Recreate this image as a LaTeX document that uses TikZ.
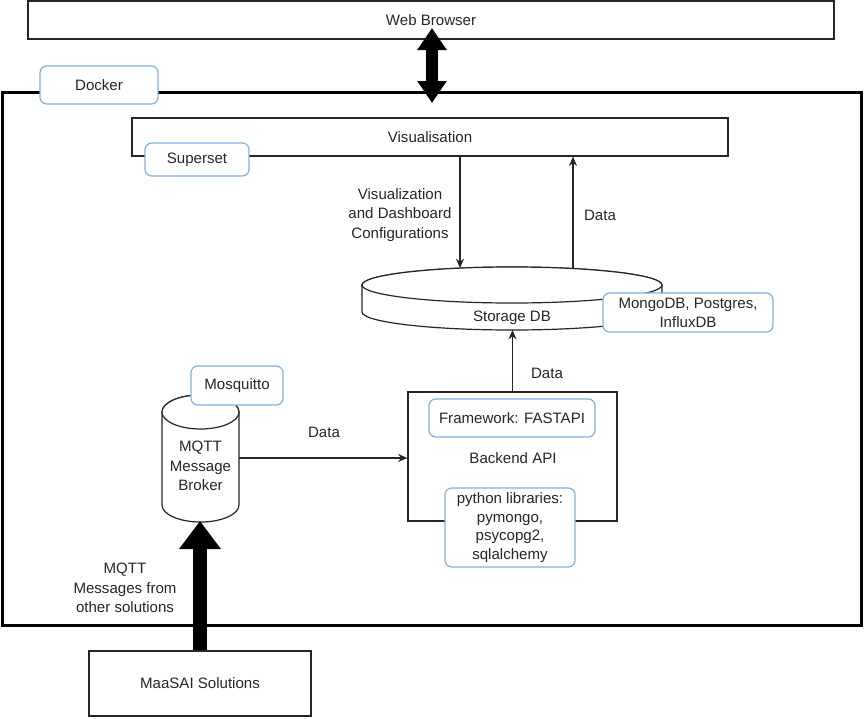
\documentclass[tikz,border=0pt]{standalone}
\usepackage{fontspec}
\setmainfont{Liberation Sans}
\usetikzlibrary{arrows.meta}
\definecolor{lblue}{HTML}{7EB2E4}
\def\u{0.75pt}
\begin{document}
\begin{tikzpicture}[x=0.75pt,y=-0.75pt,
  font=\fontsize{11.3}{14.4}\selectfont,
  box/.style={draw=black!85, line width=0.9pt, fill=white, inner sep=0pt, text=black!85},
  tag/.style={draw=lblue, line width=0.9pt, rounded corners=5pt, fill=white, inner sep=0pt, align=center, text=black!85},
  lbl/.style={align=center, text=black!85, inner sep=0pt},
  arr/.style={draw=black!85, line width=0.8pt, -{Stealth[length=7pt,width=6pt]}},
  blockarr/.style={draw=black, line width=9pt}]
\useasboundingbox (0,0) rectangle (864,718);

% Docker container
\node[draw=black, line width=2.25pt, minimum width=859*\u, minimum height=533*\u, inner sep=0pt] (docker) at (431.5,358.5) {};
\node[tag, minimum width=118*\u, minimum height=38*\u] (dockerlbl) at (99,85) {Docker};

% Web browser
\node[box, minimum width=806*\u, minimum height=38*\u] (web) at (431,20) {Web Browser};
\coordinate (wa) at (432,28);
\coordinate (wb) at (432,103);
\draw[blockarr, {Triangle[length=16.5pt,width=21pt]}-{Triangle[length=16.5pt,width=21pt]}] (wa) -- (wb);

% Visualisation
\node[box, minimum width=596*\u, minimum height=38*\u] (viz) at (430,137) {Visualisation};
\node[tag, minimum width=104*\u, minimum height=33*\u] (superset) at (197,159.5) {Superset};

% Storage DB cylinder
\draw[box] (362,285) -- (362,312) arc[start angle=180, end angle=360, x radius=112.5pt, y radius=13.5pt] -- (662,285) arc[start angle=0, end angle=180, x radius=112.5pt, y radius=13.5pt] -- cycle;
\draw[box] (512,285) ellipse[x radius=112.5pt, y radius=13.5pt];
\node[lbl] (db) at (512,318) {Storage DB};
\coordinate (dbA) at (460,268);
\coordinate (dbB) at (573,269);
\coordinate (dbbot) at (512.5,330);
\node[tag, minimum width=170*\u, minimum height=39*\u] (mongo) at (688,312.5) {MongoDB, Postgres,\\InfluxDB};

\draw[arr] (viz.south -| dbA) -- (dbA);
\draw[arr] (dbB) -- (viz.south -| dbB);
\node[lbl] (vizcfg) at (400,215) {Visualization\\and Dashboard\\Configurations};
\node[lbl] (data1) at (600,215) {Data};

% Backend API
\node[box, minimum width=209*\u, minimum height=129*\u] (backend) at (512.5,456.5) {};
\node[lbl] (backendlbl) at (513,458) {Backend API};
\node[tag, minimum width=166*\u, minimum height=38*\u] (framework) at (512,418) {Framework: FASTAPI};
\node[tag, minimum width=130*\u, minimum height=79*\u, font=\fontsize{11.3}{14}\selectfont] (pylib) at (510,527.5) {python libraries:\\pymongo,\\psycopg2,\\sqlalchemy};
\draw[arr] (backend.north) -- (dbbot);
\node[lbl] (data2) at (547,373) {Data};

% MQTT broker cylinder
\draw[box] (162,412) -- (162,505) arc[start angle=180, end angle=360, x radius=28.875pt, y radius=12.75pt] -- (239,412) arc[start angle=0, end angle=180, x radius=28.875pt, y radius=12.75pt] -- cycle;
\draw[box] (200.5,412) ellipse[x radius=28.875pt, y radius=12.75pt];
\node[lbl] (mqtt) at (200.5,466) {MQTT\\Message\\Broker};
\coordinate (mqttR) at (239,458);
\coordinate (mqttbot) at (200,521);
\node[tag, minimum width=92*\u, minimum height=39*\u] (mosquitto) at (237,385.5) {Mosquitto};
\draw[arr] (mqttR) -- (mqttR -| backend.west);
\node[lbl] (data3) at (324,432) {Data};

% MaaSAI Solutions
\node[box, minimum width=222*\u, minimum height=65*\u] (maasai) at (200,683.5) {MaaSAI Solutions};
\draw[blockarr, line width=10.5pt, -{Triangle[length=21pt,width=30pt]}] (maasai.north) -- (mqttbot);
\node[lbl] (mqttmsg) at (125,588) {MQTT\\Messages from\\other solutions};
\end{tikzpicture}
\end{document}
